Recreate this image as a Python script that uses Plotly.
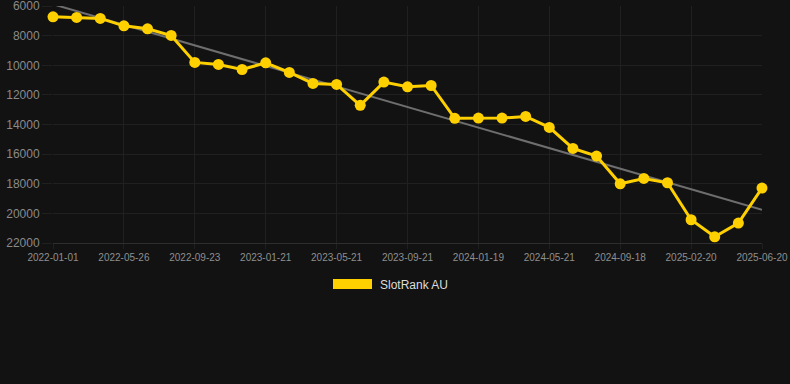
import numpy as np
import plotly.graph_objects as go

dates = [
    "2022-01-01", "2022-02-18", "2022-04-07", "2022-05-26", "2022-07-05", "2022-08-14",
    "2022-09-23", "2022-11-01", "2022-12-11", "2023-01-21", "2023-03-01", "2023-04-10",
    "2023-05-21", "2023-06-30", "2023-08-11", "2023-09-21", "2023-10-30", "2023-12-10",
    "2024-01-19", "2024-02-29", "2024-04-10", "2024-05-21", "2024-06-29", "2024-08-09",
    "2024-09-18", "2024-11-08", "2024-12-30", "2025-02-20", "2025-04-01", "2025-05-11",
    "2025-06-20",
]
rank_au = [
    6720, 6765, 6830, 7330, 7530, 7980,
    9800, 9940, 10280, 9830, 10480, 11220,
    11290, 12700, 11130, 11450, 11360, 13580,
    13560, 13560, 13450, 14190, 15610, 16130,
    18000, 17640, 17930, 20430, 21580, 20650,
    18290,
]
series_name = "SlotRank AU"
tick_dates = dates[::3]
y_ticks = [6000, 8000, 10000, 12000, 14000, 16000, 18000, 20000, 22000]

# linear trend (least squares on point index)
idx = np.arange(len(rank_au))
slope, intercept = np.polyfit(idx, rank_au, 1)
trend_x = [dates[0], dates[-1]]
trend_y = [intercept, intercept + slope * idx[-1]]

YELLOW = "#ffd000"
BG = "#121212"
GRID = "#202020"

fig = go.Figure()
fig.add_trace(go.Scatter(
    x=trend_x, y=trend_y, mode="lines",
    line=dict(color="#6e6e6e", width=2),
    hoverinfo="skip", showlegend=False, cliponaxis=False,
))
fig.add_trace(go.Scatter(
    x=dates, y=rank_au, mode="lines+markers", name=series_name,
    line=dict(color=YELLOW, width=3),
    marker=dict(color=YELLOW, size=11),
    showlegend=False, cliponaxis=False,
))

L, R, T, B = 53, 28, 6, 141
W, H = 790, 384
pw = W - L - R
ph = H - T - B

def px(x):
    return (x - L) / pw

def py(y):
    return (H - B - y) / ph

fig.add_shape(type="rect", xref="paper", yref="paper",
              x0=px(333), x1=px(372), y0=py(289), y1=py(279),
              fillcolor=YELLOW, line=dict(width=0))
fig.add_annotation(xref="paper", yref="paper", x=px(378), y=py(284.5),
                   text=series_name, showarrow=False, xanchor="left", yanchor="middle",
                   font=dict(family="Liberation Sans, Arial, sans-serif", size=12, color="#dddddd"))

fig.update_layout(
    width=W, height=H,
    margin=dict(l=L, r=R, t=T, b=B, pad=0, autoexpand=False),
    paper_bgcolor=BG, plot_bgcolor=BG,
    font=dict(family="Liberation Sans, Arial, sans-serif", color="#8a8a8a"),
    showlegend=False,
    xaxis=dict(
        type="category", categoryorder="array", categoryarray=dates,
        range=[0, len(dates) - 1],
        tickmode="array", tickvals=tick_dates, ticktext=tick_dates,
        tickfont=dict(size=10, color="#8f8f8f"),
        showgrid=True, gridcolor=GRID, gridwidth=1,
        showline=True, linecolor="#2e2e2e", linewidth=1,
        ticks="outside", ticklen=5, tickcolor=GRID,
        zeroline=False, fixedrange=True, automargin=False,
        ticklabeloverflow="allow",
    ),
    yaxis=dict(
        range=[22000, 5990],
        tickmode="array", tickvals=y_ticks, ticktext=[str(v) for v in y_ticks],
        tickfont=dict(size=12, color="#8a8a8a"),
        showgrid=True, gridcolor=GRID, gridwidth=1,
        showline=False, zeroline=False,
        ticks="outside", ticklen=10, tickcolor=GRID,
        fixedrange=True, automargin=False,
        ticklabeloverflow="allow",
    ),
)

fig.write_html("out.html")
